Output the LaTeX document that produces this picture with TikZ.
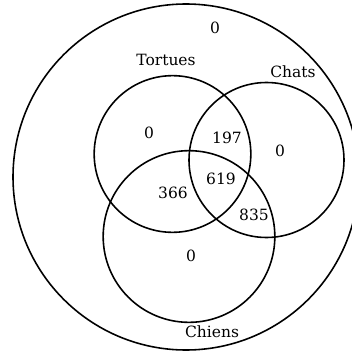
\documentclass[tikz,border=0pt]{standalone}
\usepackage{fontspec}
\setmainfont{DejaVu Serif}
\begin{document}
\begin{tikzpicture}[x=0.6pt,y=-0.6pt,
  setc/.style={circle,draw,line width=0.95pt,inner sep=0pt},
  lbl/.style={inner sep=0pt,font=\fontsize{9.3}{11}\selectfont}]
\useasboundingbox (0,0) rectangle (351,353);
\node[setc,minimum size=207.6pt] (U) at (186,177) {};
\node[setc,minimum size=94pt] (T) at (172.5,154) {};
\node[setc,minimum size=93pt] (C) at (266.5,160) {};
\node[setc,minimum size=103pt] (D) at (189,236.5) {};
\node[lbl] (u0) at (215,28) {0};
\node[lbl] (lt) at (166,60) {Tortues};
\node[lbl] (lc) at (293,72) {Chats};
\node[lbl] (t0) at (149,133) {0};
\node[lbl] (tc) at (227,138) {197};
\node[lbl] (c0) at (280,151) {0};
\node[lbl] (tcd) at (221,179) {619};
\node[lbl] (td) at (173,193) {366};
\node[lbl] (cd) at (254,215) {835};
\node[lbl] (d0) at (191,256) {0};
\node[lbl] (ld) at (212,332) {Chiens};
\end{tikzpicture}
\end{document}
